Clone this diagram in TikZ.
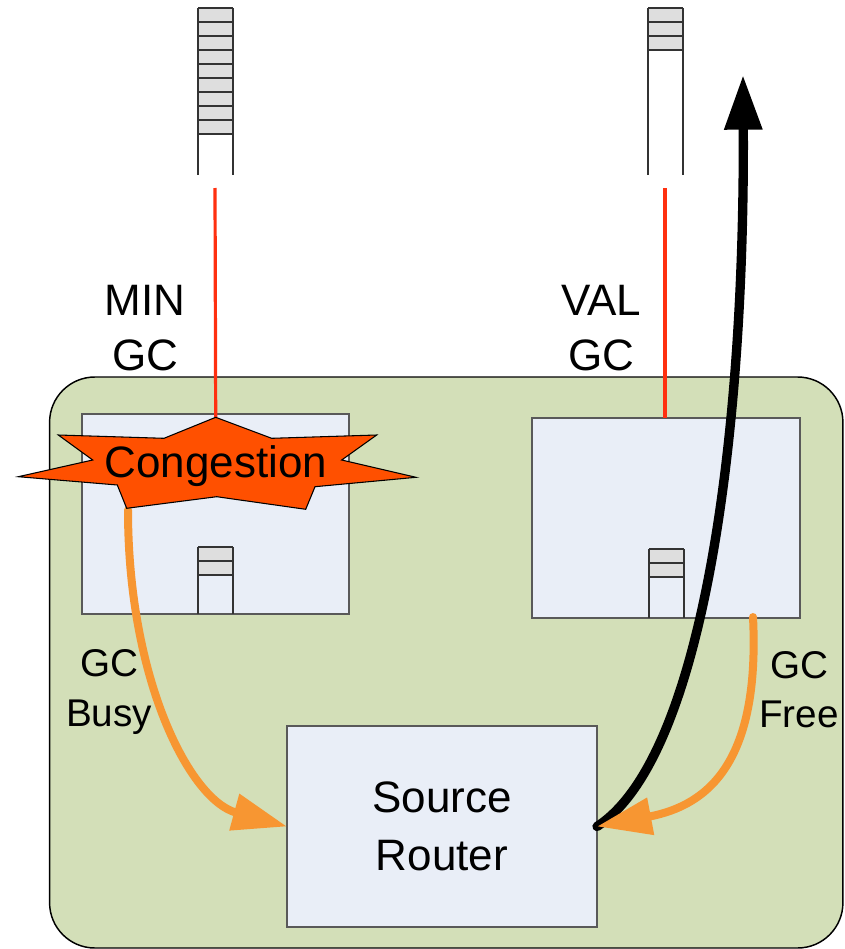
\documentclass[tikz,border=0pt]{standalone}
\usepackage{fontspec}
\setmainfont{Liberation Sans}
\usetikzlibrary{arrows.meta}

\definecolor{panelgreen}{RGB}{211,223,184}
\definecolor{boxblue}{RGB}{233,238,247}
\definecolor{cellgray}{RGB}{222,222,222}
\definecolor{flame}{RGB}{255,80,0}
\definecolor{wire}{RGB}{255,48,16}
\definecolor{gcorange}{RGB}{247,150,50}

\tikzset{
  panel/.style={draw=black, line width=1.1pt, fill=panelgreen, rounded corners=34pt,
                inner sep=0pt, outer sep=0pt},
  routerbox/.style={draw=black!65, line width=1pt, fill=boxblue, inner sep=0pt, outer sep=0pt},
  qline/.style={draw=black!80, line width=1.1pt},
  qcells/.style={fill=cellgray},
  wireline/.style={draw=wire, line width=2.4pt},
  biglabel/.style={font=\fontsize{33}{41}\selectfont, align=center, inner sep=0pt},
  smalllabel/.style={font=\fontsize{29}{37}\selectfont, align=center, inner sep=0pt},
  gcarrow/.style={draw=gcorange, line width=6pt, line cap=round,
                  -{Triangle[length=41pt, width=27pt]}},
  pathArrow/.style={draw=black, line width=7pt, line cap=round,
                  -{Triangle[length=41pt, width=27pt]}},
  starshape/.style={draw=black, line width=0.8pt, fill=flame, line join=miter}
}

\newcommand{\drawqueue}[5]{%
  % #1 left x, #2 right x, #3 top y, #4 bottom y, #5 number of filled cells (14px each)
  \fill[qcells] (#1,#3) rectangle (#2,#3+14*#5);
  \foreach \k in {0,...,#5} \draw[qline] (#1,#3+14*\k) -- (#2,#3+14*\k);
  \draw[qline] (#1,#3) -- (#1,#4);
  \draw[qline] (#2,#3) -- (#2,#4);
}

\begin{document}
\begin{tikzpicture}[x=0.75pt, y=-0.75pt]
\useasboundingbox (0,0) rectangle (845,949);

% green panel holding the routers
\node[panel, minimum width=595pt, minimum height=428.25pt] (panel) at (446.25,662.5) {};

% output queues of the global channels
\drawqueue{198}{233}{8}{175}{9}
\drawqueue{648}{683}{8}{175}{3}
\coordinate (minTap) at (215,188);
\coordinate (valTap) at (665,188);

% the two intermediate routers
\node[routerbox, minimum width=200.25pt, minimum height=150pt] (minbox) at (215.5,514) {};
\node[routerbox, minimum width=201pt, minimum height=150pt] (valbox) at (666,518) {};

% local queues inside the routers
\drawqueue{198}{233}{547}{614}{2}
\drawqueue{649}{684}{549}{618}{2}

% source router
\node[routerbox, minimum width=232.5pt, minimum height=150.75pt, biglabel,
      font=\fontsize{33}{43}\selectfont] (src) at (442,826.5) {Source\\Router};

% global channel wires
\coordinate (starTop) at (215.7,417.3);
\draw[wireline] (minTap) -- (starTop);
\draw[wireline] (valTap) -- (valbox.north -| valTap);

% channel labels
\node[biglabel] (minlbl) at (145,328) {MIN\\GC};
\node[biglabel] (vallbl) at (601,328) {VAL\\GC};

% chosen path out through the non-minimal channel
\coordinate (pathEnd) at (743,75);
\draw[pathArrow] (src.east) .. controls (700,760) and (745,450) .. (pathEnd);

% busy / free feedback towards the source
\coordinate (busyStart) at (128,510);
\coordinate (freeStart) at (753,617);
\draw[gcarrow] (busyStart) .. controls (128,680) and (190,800) .. (src.west);
\draw[gcarrow] (freeStart) .. controls (760,760) and (710,805) .. (src.east);

% congestion burst
\draw[starshape] (215.7,417.3) -- (271.7,438.3) -- (376.7,435) -- (341.7,460)
  -- (416,477.3) -- (315,486.7) -- (305.7,509.3) -- (216.7,496.7) -- (126.7,508.3)
  -- (117.3,485) -- (18.3,476.7) -- (92.7,460) -- (58.3,435) -- (164,438.3) -- cycle;
\node[biglabel] (cong) at (216,466) {Congestion};

% feedback labels
\node[smalllabel] (busylbl) at (109,692) {GC\\Busy};
\node[smalllabel] (freelbl) at (799,690) {GC\\Free};
\end{tikzpicture}
\end{document}
